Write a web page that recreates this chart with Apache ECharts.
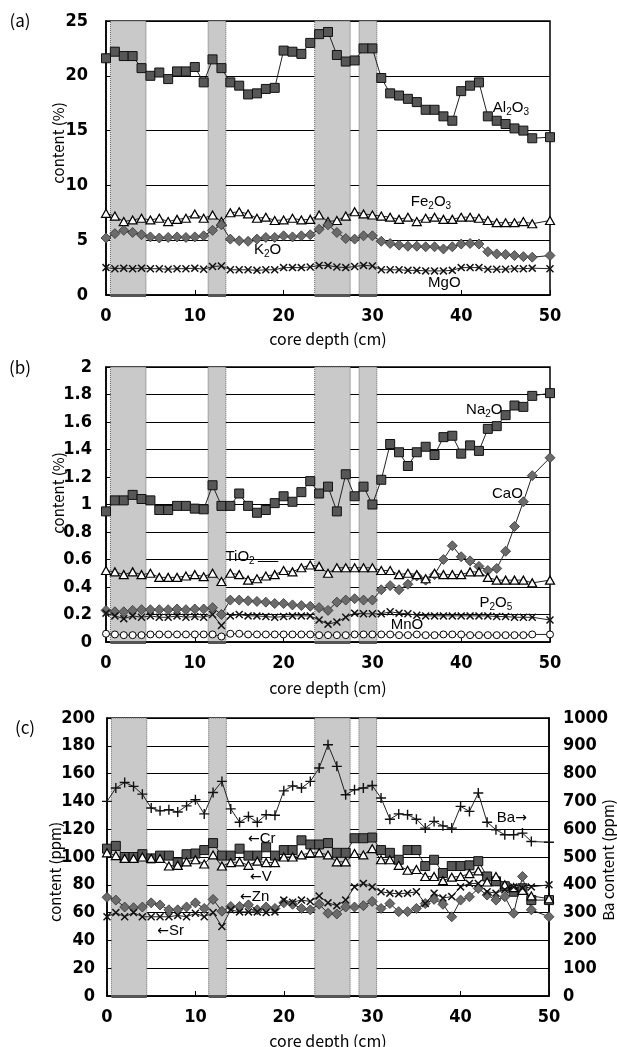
<!DOCTYPE html>
<html><head><meta charset="utf-8">
<script src="https://cdn.jsdelivr.net/npm/echarts@6/dist/echarts.min.js"></script>
<style>html,body{margin:0;padding:0;background:#fff}#c{width:617px;height:1047px}</style>
</head><body><div id="c"></div>
<script>
const depth = [0,1,2,3,4,5,6,7,8,9,10,11,12,13,14,15,16,17,18,19,20,21,22,23,24,25,26,27,28,29,30,31,32,33,34,35,36,37,38,39,40,41,42,43,44,45,46,47,48,50];
const bands = [[0.5,4.5],[11.5,13.5],[23.5,27.5],[28.5,30.5]];

// panel (a) %
const Al2O3 = [21.6,22.2,21.8,21.8,20.7,20.0,20.3,19.7,20.4,20.4,20.8, 19.4,21.5,20.7,19.4,19.1,18.3,18.4,18.8,18.9,22.3, 22.2,22.0,23.0,23.8,24.0,21.9,21.3,21.4,22.5,22.5, 19.8,18.4,18.2,17.9,17.6,16.9,16.9,16.3,15.9,18.6, 19.1,19.4,16.3,15.9,15.6,15.2,15.0,14.3, 14.4];
const Fe2O3 = [7.45,7.2,6.7,6.85,7.0,6.85,7.0,6.7,6.9,7.0,7.4, 7.0,7.3,6.7,7.5,7.6,7.4,7.0,7.1,6.8,6.85, 7.0,6.85,6.9,7.3,6.7,6.8,7.2,7.6,7.4,7.3, 7.2,7.1,6.9,7.1,6.7,7.0,7.1,6.9,6.9,7.1, 7.1,7.0,6.8,6.6,6.6,6.6,6.7,6.5, 6.8];
const K2O = [5.2,5.6,5.9,5.7,5.5,5.3,5.2,5.25,5.3,5.25,5.3, 5.4,5.9,6.4,5.1,4.95,4.9,5.1,5.25,5.25,5.4, 5.3,5.4,5.5,6.0,6.4,5.7,5.15,5.1,5.4,5.4, 4.9,4.7,4.55,4.45,4.45,4.4,4.4,4.2,4.4,4.65, 4.7,4.65,3.95,3.75,3.7,3.6,3.5,3.45, 3.6];
const MgO = [2.5,2.4,2.45,2.4,2.45,2.4,2.4,2.35,2.4,2.4,2.45, 2.35,2.6,2.65,2.3,2.3,2.3,2.25,2.3,2.3,2.5, 2.5,2.5,2.55,2.7,2.7,2.55,2.5,2.6,2.7,2.65, 2.3,2.3,2.3,2.25,2.25,2.2,2.2,2.2,2.25,2.5, 2.5,2.5,2.35,2.35,2.35,2.4,2.4,2.45, 2.4];

// panel (b) %
const Na2O = [0.95,1.03,1.03,1.07,1.04,1.03,0.96,0.96,0.99,0.99,0.97, 0.965,1.14,0.99,0.99,1.08,0.99,0.94,0.96,1.01,1.06, 1.02,1.09,1.17,1.08,1.13,0.95,1.22,1.06,1.13,1.00, 1.18,1.44,1.38,1.28,1.38,1.42,1.36,1.49,1.50,1.37, 1.43,1.39,1.55,1.57,1.65,1.72,1.71,1.79, 1.81];
const CaO = [0.23,0.22,0.22,0.23,0.235,0.235,0.235,0.235,0.24,0.235,0.24, 0.24,0.25,0.20,0.305,0.305,0.30,0.295,0.29,0.28,0.28, 0.27,0.265,0.26,0.25,0.23,0.29,0.305,0.315,0.305,0.305, 0.38,0.41,0.38,0.42,0.48,0.45,0.49,0.60,0.70,0.62, 0.59,0.55,0.52,0.535,0.66,0.84,1.02,1.21, 1.34];
const TiO2 = [0.52,0.51,0.49,0.51,0.49,0.50,0.47,0.47,0.47,0.48,0.49, 0.475,0.50,0.44,0.50,0.49,0.45,0.46,0.48,0.49,0.52, 0.51,0.54,0.56,0.55,0.50,0.54,0.54,0.54,0.54,0.54, 0.52,0.52,0.49,0.50,0.49,0.46,0.50,0.49,0.49,0.49, 0.51,0.51,0.47,0.45,0.45,0.45,0.45,0.43, 0.45];
const P2O5 = [0.21,0.19,0.17,0.19,0.18,0.19,0.18,0.18,0.19,0.18,0.185, 0.18,0.20,0.12,0.19,0.20,0.19,0.19,0.185,0.18,0.185, 0.19,0.19,0.19,0.16,0.13,0.145,0.18,0.21,0.205,0.205, 0.205,0.22,0.21,0.205,0.195,0.19,0.19,0.19,0.19,0.19, 0.19,0.19,0.19,0.185,0.185,0.18,0.18,0.18, 0.16];
const MnO = [0.06,0.055,0.05,0.05,0.05,0.055,0.055,0.055,0.055,0.055,0.055, 0.055,0.055,0.04,0.06,0.06,0.055,0.055,0.055,0.055,0.055, 0.055,0.055,0.055,0.05,0.05,0.05,0.05,0.055,0.055,0.055, 0.055,0.055,0.05,0.05,0.055,0.05,0.05,0.055,0.055,0.055, 0.05,0.05,0.05,0.05,0.05,0.05,0.05,0.055, 0.055];

// panel (c) ppm
const Cr = [106,108,100,100,102,99,101,101,96,102,102.5, 105,110,101,101,106,101,101,107,101,105, 105,112,109,109,110,103,103,113.5,113.5,114, 105,103,98,105,105,93.5,98,88.5,93.5,93.5, 94,97,86,82.5,79,75,77.5,69, 69];
const V = [103,101,99,99,100,99,99,93.5,94,96.5,98, 95,101.5,93.5,96,96.5,94,97,96,96,100, 100,101.5,103,103,101.5,96.5,96.5,102.5,101.5,106, 98,98,94,90.5,91,86,86,83,85.5,86, 88,90,82,86,80,78,76,72, 70];
const Zn = [71,69,64,63.5,64,67,65.5,62,62,64,67, 63,69.5,61,64.4,64.4,65.6,62,64,63,67, 66,63,62,66,59.5,59,64,64,65,68, 63,66.5,60.7,60.7,63,66.5,69.5,66,57,69, 71.4,77.4,72.6,69,71.4,59.5,86,62, 57];
const Sr = [57,60,57,60,57,57,57,57,58,57,59.5, 57,60,50,62,60.5,60.5,60.5,60,60.5,69, 67.5,69,68,72,67,65,69,78.5,81,78.5, 75,74,73.5,74,75,66.5,74,70.5,71.5,78.5, 81,81,75,74,76.5,78.5,77.5,78.5, 80];
const Ba = [700,748,768,754,726,676,666,670,662,684,706, 655,732,772,673,625,646,625,652,650,738, 756,748,772,820,904,826,724,742,748,757, 712,636,655,652,636,604,628,612,604,682, 664,730,625,598,580,580,586,556, 553];

const tickFont = "'Liberation Sans Narrow','DejaVu Sans Condensed',sans-serif";
const textFont = "'Liberation Sans','DejaVu Sans',sans-serif";
const arrowFont = "'DejaVu Sans',sans-serif";
const titleFont = "'Noto Sans CJK JP','Noto Sans',sans-serif";

const X_PATH = 'path://M0,1.3L1.3,0L5,3.7L8.7,0L10,1.3L6.3,5L10,8.7L8.7,10L5,6.3L1.3,10L0,8.7L3.7,5Z';
const PLUS_PATH = 'path://M4.3,0H5.7V4.3H10V5.7H5.7V10H4.3V5.7H0V4.3H4.3Z';

const sty = {
  square: {symbol:'rect', symbolSize:9, itemStyle:{color:'#575757', borderColor:'#111', borderWidth:1}},
  diamond:{symbol:'diamond', symbolSize:[10,10], itemStyle:{color:'#6b6b6b', borderColor:'#333', borderWidth:0.8}},
  tri:    {symbol:'triangle', symbolSize:[9,8], itemStyle:{color:'#fff', borderColor:'#000', borderWidth:1.2}},
  circ:   {symbol:'circle', symbolSize:7, itemStyle:{color:'#fff', borderColor:'#000', borderWidth:1}},
  cross:  {symbol:X_PATH, symbolSize:8, itemStyle:{color:'#111', borderWidth:0}},
  plus:   {symbol:PLUS_PATH, symbolSize:10, itemStyle:{color:'#111', borderWidth:0}}
};

function pairs(arr){ return depth.map((d,i)=>[d,arr[i]]); }

const rich = {
  n:{fontSize:15, fontFamily:textFont, color:'#000'},
  a:{fontSize:14, fontFamily:arrowFont, color:'#000'},
  s:{fontSize:10, fontFamily:textFont, color:'#000', padding:[9,0,0,0]}
};
function tag(coord, fmt){
  return {coord:coord, symbol:'rect', symbolSize:1, itemStyle:{color:'rgba(0,0,0,0)'},
    label:{show:true, position:'inside', formatter:fmt, rich:rich, color:'#000', fontSize:15, fontFamily:textFont}};
}

function bandArea(){
  return {silent:true, itemStyle:{color:'#c9c9c9', borderColor:'#666', borderWidth:1, borderType:'dotted'},
    data: bands.map(b=>[{xAxis:b[0], yAxis:0},{xAxis:b[1]}])};
}
function bandBase(){
  return bands.map(b=>[{coord:[b[0],0]},{coord:[b[1],0]}]);
}
function baseLine(extra){
  return {silent:true, symbol:'none', label:{show:false}, lineStyle:{color:'#555', width:3, type:'solid'},
    data: bandBase().concat(extra||[])};
}

function mk(name, arr, st, xi, yi, extra){
  return Object.assign({
    name:name, type:'line', xAxisIndex:xi, yAxisIndex:yi, data:pairs(arr),
    showAllSymbol:true, symbol:st.symbol, symbolSize:st.symbolSize, itemStyle:st.itemStyle,
    lineStyle:{color:'#222', width:1}, emphasis:{disabled:true}, z:3
  }, extra||{});
}

const grids = [
  {left:106, width:444, top:21, height:274},
  {left:106, width:444, top:367, height:275},
  {left:107, width:442, top:718, height:278}
];

function xAx(gi){
  return {type:'value', gridIndex:gi, min:0, max:50, interval:10,
    axisLine:{lineStyle:{color:'#000', width:1.5}}, axisTick:{inside:true, length:5, lineStyle:{color:'#000'}},
    splitLine:{show:false},
    axisLabel:{color:'#000', fontSize:18, fontWeight:'bold', fontFamily:tickFont, margin:12}};
}
function yAx(gi, max, interval, margin, extra){
  return Object.assign({type:'value', gridIndex:gi, min:0, max:max, interval:interval,
    axisLine:{show:true, lineStyle:{color:'#000', width:1.5}}, axisTick:{show:false},
    splitLine:{show:true, lineStyle:{color:'#000', width:1}},
    axisLabel:{color:'#000', fontSize:18, fontWeight:'bold', fontFamily:tickFont, margin:margin,
      formatter:function(v){ return String(Math.round(v*1000)/1000); }}}, extra||{});
}

const option = {
  animation:false,
  backgroundColor:'#fff',
  grid: grids.map(g=>Object.assign({show:true, borderColor:'#000', borderWidth:1.5, backgroundColor:'transparent'}, g)),
  xAxis:[xAx(0), xAx(1), xAx(2)],
  yAxis:[
    yAx(0, 25, 5, 18),
    yAx(1, 2, 0.2, 14),
    yAx(2, 200, 20, 12),
    yAx(2, 1000, 100, 14, {position:'right', splitLine:{show:false}})
  ],
  series:[
    // (a)
    mk('Al2O3', Al2O3, sty.square, 0, 0, {markArea:bandArea(), markLine:baseLine(), markPoint:{data:[
      tag([45.6,17.1],'{n|Al}{s|2}{n|O}{s|3}'),
      tag([36.6,8.5],'{n|Fe}{s|2}{n|O}{s|3}'),
      tag([18.2,4.1],'{n|K}{s|2}{n|O}'),
      tag([38.1,1.1],'{n|MgO}')
    ]}}),
    mk('Fe2O3', Fe2O3, sty.tri, 0, 0),
    mk('K2O', K2O, sty.diamond, 0, 0),
    mk('MgO', MgO, sty.cross, 0, 0),
    // (b)
    mk('Na2O', Na2O, sty.square, 1, 1, {markArea:bandArea(), markPoint:{data:[
      tag([42.6,1.69],'{n|Na}{s|2}{n|O}'),
      tag([45.2,1.08],'{n|CaO}'),
      tag([15.1,0.62],'{n|TiO}{s|2}'),
      tag([43.9,0.284],'{n|P}{s|2}{n|O}{s|5}'),
      tag([33.9,0.124],'{n|MnO}')
    ]}, markLine: baseLine()}),
    mk('CaO', CaO, sty.diamond, 1, 1),
    mk('TiO2', TiO2, sty.tri, 1, 1, {markLine:{silent:true, symbol:'none', label:{show:false},
      lineStyle:{color:'#000', width:1, type:'solid'},
      data:[[{coord:[17.1,0.585]},{coord:[19.4,0.585]}]]}}),
    mk('P2O5', P2O5, sty.cross, 1, 1),
    mk('MnO', MnO, sty.circ, 1, 1),
    // (c)
    mk('Cr', Cr, sty.square, 2, 2, {markArea:bandArea(), markLine:baseLine(), markPoint:{data:[
      tag([17.5,113],'{a|←}{n|Cr}'),
      tag([17.4,85.6],'{a|←}{n|V}'),
      tag([16.7,71.2],'{a|←}{n|Zn}'),
      tag([7.2,46.8],'{a|←}{n|Sr}')
    ]}}),
    mk('V', V, sty.tri, 2, 2),
    mk('Zn', Zn, sty.diamond, 2, 2),
    mk('Sr', Sr, sty.cross, 2, 2),
    mk('Ba', Ba, sty.plus, 2, 3, {markPoint:{data:[ tag([45.8,640],'{n|Ba}{a|→}') ]}})
  ],
  graphic:[
    {type:'text', x:20, y:21, style:{text:'(a)', font:"17px "+titleFont, fill:'#000', align:'center', verticalAlign:'middle'}},
    {type:'text', x:20, y:368, style:{text:'(b)', font:"17px "+titleFont, fill:'#000', align:'center', verticalAlign:'middle'}},
    {type:'text', x:25, y:728, style:{text:'(c)', font:"17px "+titleFont, fill:'#000', align:'center', verticalAlign:'middle'}},
    {type:'text', x:58, y:143, rotation:Math.PI/2, style:{text:'content (%)', font:"15px "+titleFont, fill:'#000', align:'center', verticalAlign:'middle'}},
    {type:'text', x:58, y:493, rotation:Math.PI/2, style:{text:'content (%)', font:"15px "+titleFont, fill:'#000', align:'center', verticalAlign:'middle'}},
    {type:'text', x:55, y:872, rotation:Math.PI/2, style:{text:'content (ppm)', font:"15px "+titleFont, fill:'#000', align:'center', verticalAlign:'middle'}},
    {type:'text', x:608, y:860, rotation:Math.PI/2, style:{text:'Ba content (ppm)', font:"15px "+titleFont, fill:'#000', align:'center', verticalAlign:'middle'}},
    {type:'text', x:328, y:339, style:{text:'core depth (cm)', font:"16px "+titleFont, fill:'#000', align:'center', verticalAlign:'middle'}},
    {type:'text', x:328, y:688, style:{text:'core depth (cm)', font:"16px "+titleFont, fill:'#000', align:'center', verticalAlign:'middle'}},
    {type:'text', x:328, y:1041, style:{text:'core depth (cm)', font:"16px "+titleFont, fill:'#000', align:'center', verticalAlign:'middle'}}
  ]
};
const chart = echarts.init(document.getElementById('c'), null, {renderer:'canvas'});
chart.setOption(option);
</script></body></html>
